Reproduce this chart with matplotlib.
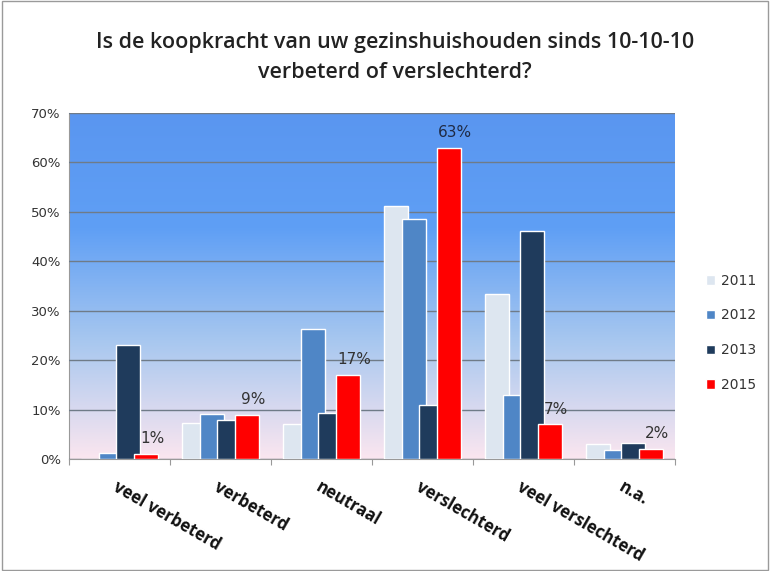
import numpy as np
import matplotlib
matplotlib.use("Agg")
import matplotlib.pyplot as plt
from matplotlib.colors import LinearSegmentedColormap
from matplotlib.patches import Rectangle
from matplotlib.ticker import PercentFormatter

categories = ["veel verbeterd", "verbeterd", "neutraal", "verslechterd",
              "veel verslechterd", "n.a."]
years = ["2011", "2012", "2013", "2015"]
v2011 = [0.0, 7.2, 7.0, 51.2, 33.3, 3.0]
v2012 = [1.3, 9.2, 26.4, 48.5, 13.0, 1.8]
v2013 = [23.0, 7.9, 9.3, 10.9, 46.2, 3.2]
v2015 = [1.0, 9.0, 17.0, 63.0, 7.0, 2.0]
series = [v2011, v2012, v2013, v2015]
colors = ["#dde6f0", "#4f86c6", "#1f3b5c", "#ff0000"]
label_txt = ["1%", "9%", "17%", "63%", "7%", "2%"]

fig = plt.figure(figsize=(7.7, 5.71), dpi=100)
fig.patch.set_facecolor("white")
fig.add_artist(Rectangle((0.002, 0.002), 0.996, 0.996, transform=fig.transFigure,
                         fill=False, edgecolor="#9a9a9a", lw=1))

ax = fig.add_axes([0.0896, 0.196, 0.787, 0.606])
x = np.arange(len(categories))

# gradient background, blue top -> pale pink bottom
cmap = LinearSegmentedColormap.from_list("bg", ["#fbe6ef", "#a9c8ef", "#5f9ff5", "#5a96f0"])
grad = np.linspace(0, 1, 256).reshape(-1, 1)
ax.imshow(grad, aspect="auto", cmap=cmap, origin="lower",
          extent=[-0.5, len(categories) - 0.5, 0, 70], zorder=0)

width = 0.24
step = 0.175
for i, (vals, c, yr) in enumerate(zip(series, colors, years)):
    off = (i - 1.5) * step
    ax.bar(x + off, vals, width, color=c, edgecolor="white", linewidth=1,
           label=yr, zorder=3 + i)

for xi, v, t in zip(x, v2015, label_txt):
    ax.text(xi + 1.5 * step + 0.06, v + 1.6, t, ha="center", va="bottom",
            fontsize=11, color="#1f2a44" if v > 50 else "#333333", zorder=10)

ax.set_xlim(-0.5, len(categories) - 0.5)
ax.set_ylim(0, 70)
ax.set_yticks(np.arange(0, 71, 10))
ax.yaxis.set_major_formatter(PercentFormatter(decimals=0))
ax.yaxis.grid(True, color="#6f7b88", lw=1, zorder=1)
ax.set_axisbelow(False)
ax.tick_params(axis="y", length=0, labelsize=9.5, colors="#333333", pad=6)
ax.set_xticks(np.arange(-0.5, len(categories) + 0.5, 1))
ax.set_xticklabels([])
ax.tick_params(axis="x", length=4, color="#999999", direction="out")
for s in ["top", "right"]:
    ax.spines[s].set_visible(False)
for s in ["left", "bottom"]:
    ax.spines[s].set_color("#999999")

for xi, cat in zip(x, categories):
    ax.text(xi - 0.0, -0.055, cat, transform=ax.get_xaxis_transform(),
            rotation=-30, rotation_mode="anchor", ha="left", va="top",
            fontsize=12, fontweight="bold", family="Open Sans", color="#111111")

fig.text(0.513, 0.90, "Is de koopkracht van uw gezinshuishouden sinds 10-10-10\nverbeterd of verslechterd?",
         ha="center", va="center", fontsize=15.5, family="Open Sans",
         fontweight="semibold", color="#222222", linespacing=1.55)

leg = fig.legend(loc="center left", bbox_to_anchor=(0.9, 0.417), frameon=False,
                 fontsize=10, handlelength=0.7, handleheight=0.7,
                 labelspacing=1.5, handletextpad=0.4)
for t in leg.get_texts():
    t.set_color("#333333")

fig.savefig("out.png", dpi=100)
